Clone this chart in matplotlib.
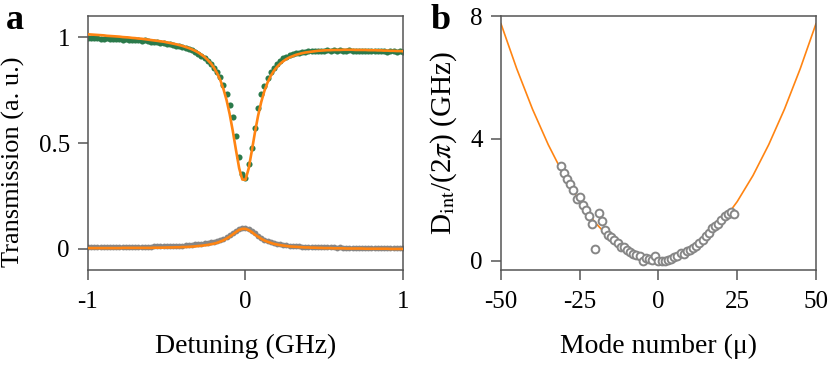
import numpy as np
import matplotlib
matplotlib.use("Agg")
import matplotlib.pyplot as plt

plt.rcParams['font.family'] = ['Liberation Serif', 'DejaVu Serif']
plt.rcParams['mathtext.fontset'] = 'stix'
plt.rcParams['axes.unicode_minus'] = False

# ---- panel a: transmission vs detuning ----
detuning = np.round(np.arange(-1.0, 1.0001, 0.02), 2)

transmission = [
    0.998, 0.996, 0.995, 0.997, 0.994, 0.993, 0.995, 0.992, 0.991, 0.993,
    0.990, 0.989, 0.991, 0.988, 0.987, 0.988, 0.985, 0.984, 0.985, 0.982,
    0.980, 0.978, 0.977, 0.974, 0.972, 0.970, 0.967, 0.965, 0.961, 0.958,
    0.954, 0.949, 0.944, 0.938, 0.931, 0.923, 0.913, 0.902, 0.889, 0.874,
    0.856, 0.836, 0.810, 0.776, 0.732, 0.680, 0.622, 0.533, 0.434, 0.354,
    0.337, 0.402, 0.475, 0.570, 0.665, 0.733, 0.772, 0.806, 0.834, 0.855,
    0.874, 0.889, 0.900, 0.908, 0.914, 0.919, 0.924, 0.927, 0.930, 0.932,
    0.934, 0.933, 0.936, 0.935, 0.937, 0.935, 0.938, 0.936, 0.938, 0.936,
    0.938, 0.937, 0.935, 0.938, 0.936, 0.937, 0.935, 0.937, 0.936, 0.934,
    0.936, 0.935, 0.933, 0.935, 0.934, 0.932, 0.934, 0.933, 0.931, 0.933,
    0.932]

transmission_fit = [
    1.014, 1.013, 1.012, 1.011, 1.010, 1.009, 1.007, 1.006, 1.005, 1.004,
    1.003, 1.001, 1.000, 0.999, 0.997, 0.996, 0.994, 0.993, 0.991, 0.989,
    0.987, 0.985, 0.983, 0.981, 0.979, 0.976, 0.973, 0.970, 0.967, 0.963,
    0.959, 0.954, 0.949, 0.943, 0.936, 0.928, 0.918, 0.907, 0.893, 0.877,
    0.856, 0.830, 0.798, 0.756, 0.703, 0.636, 0.555, 0.466, 0.381, 0.328,
    0.327, 0.379, 0.462, 0.550, 0.629, 0.694, 0.746, 0.786, 0.817, 0.841,
    0.860, 0.875, 0.887, 0.897, 0.905, 0.911, 0.917, 0.921, 0.925, 0.928,
    0.930, 0.932, 0.934, 0.936, 0.937, 0.938, 0.939, 0.939, 0.940, 0.940,
    0.940, 0.941, 0.941, 0.941, 0.941, 0.940, 0.940, 0.940, 0.940, 0.939,
    0.939, 0.939, 0.938, 0.938, 0.937, 0.937, 0.936, 0.936, 0.935, 0.935,
    0.934]

drop = [
    0.009, 0.010, 0.009, 0.008, 0.009, 0.010, 0.009, 0.009, 0.010, 0.009,
    0.009, 0.010, 0.010, 0.009, 0.010, 0.011, 0.010, 0.010, 0.011, 0.011,
    0.011, 0.012, 0.012, 0.012, 0.013, 0.013, 0.014, 0.014, 0.015, 0.016,
    0.016, 0.017, 0.018, 0.019, 0.021, 0.022, 0.024, 0.026, 0.028, 0.031,
    0.034, 0.038, 0.043, 0.049, 0.056, 0.064, 0.074, 0.084, 0.093, 0.098,
    0.099, 0.094, 0.085, 0.073, 0.062, 0.052, 0.044, 0.037, 0.032, 0.027,
    0.024, 0.021, 0.019, 0.017, 0.015, 0.014, 0.013, 0.012, 0.011, 0.010,
    0.010, 0.009, 0.009, 0.008, 0.008, 0.008, 0.007, 0.007, 0.007, 0.006,
    0.007, 0.006, 0.006, 0.006, 0.005, 0.006, 0.005, 0.005, 0.006, 0.005,
    0.005, 0.004, 0.005, 0.005, 0.004, 0.005, 0.004, 0.004, 0.005, 0.004,
    0.004]

drop_fit = [
    0.004, 0.004, 0.004, 0.004, 0.004, 0.004, 0.004, 0.004, 0.004, 0.004,
    0.004, 0.005, 0.005, 0.005, 0.005, 0.005, 0.005, 0.005, 0.005, 0.005,
    0.005, 0.006, 0.006, 0.006, 0.006, 0.007, 0.007, 0.007, 0.008, 0.008,
    0.009, 0.009, 0.010, 0.011, 0.012, 0.014, 0.015, 0.017, 0.019, 0.022,
    0.025, 0.029, 0.035, 0.041, 0.049, 0.058, 0.069, 0.080, 0.090, 0.095,
    0.095, 0.089, 0.080, 0.068, 0.058, 0.048, 0.040, 0.034, 0.029, 0.024,
    0.021, 0.018, 0.016, 0.014, 0.012, 0.011, 0.010, 0.009, 0.008, 0.007,
    0.007, 0.006, 0.006, 0.005, 0.005, 0.004, 0.004, 0.004, 0.003, 0.003,
    0.003, 0.003, 0.002, 0.002, 0.002, 0.002, 0.002, 0.002, 0.001, 0.001,
    0.001, 0.001, 0.001, 0.001, 0.001, 0.001, 0.000, 0.000, 0.000, 0.000,
    0.000]

# ---- panel b: integrated dispersion ----
mode_number = list(range(-31, 25))
d_int = [
    3.09, 2.87, 2.68, 2.53, 2.32, 2.02, 2.09, 1.84, 1.65, 1.48,
    1.20, 0.38, 1.55, 1.29, 1.02, 0.86, 0.77, 0.67, 0.60, 0.45,
    0.47, 0.36, 0.28, 0.22, 0.20, 0.16, 0.01, 0.08, 0.05, 0.03,
    0.16, 0.01, 0.00, 0.01, 0.03, 0.07, 0.12, 0.16, 0.25, 0.23,
    0.31, 0.36, 0.43, 0.50, 0.58, 0.70, 0.80, 0.91, 1.06, 1.14,
    1.21, 1.34, 1.47, 1.54, 1.61, 1.54]

fit_mode = list(range(-50, 51, 5))
d_int_fit = [7.75, 6.28, 4.96, 3.80, 2.79, 1.94, 1.24, 0.70, 0.31, 0.08, 0.00,
             0.08, 0.31, 0.70, 1.24, 1.94, 2.79, 3.80, 4.96, 6.28, 7.75]

orange = '#ff8412'
green = '#2b7a4b'
grey = '#868686'
spine_c = '#555555'
fs = 18   # tick labels
lfs = 20  # axis labels

fig = plt.figure(figsize=(8.3, 3.66), dpi=100)
ax1 = fig.add_axes([0.106, 0.262, 0.3795, 0.694])
ax2 = fig.add_axes([0.6036, 0.262, 0.3795, 0.694])

ax1.plot(detuning, transmission, 'o', color=green, ms=4.4, mew=0, zorder=2)
ax1.plot(detuning, drop, 'o', color=grey, ms=4.2, mew=0, zorder=2)
ax1.plot(detuning, transmission_fit, '-', color=orange, lw=1.9, zorder=3)
ax1.plot(detuning, drop_fit, '-', color=orange, lw=1.9, zorder=3)
ax1.set_xlim(-1, 1)
ax1.set_ylim(-0.1, 1.1)
ax1.set_xticks([-1, 0, 1])
ax1.set_xticklabels(['-1', '0', '1'])
ax1.set_yticks([0, 0.5, 1])
ax1.set_yticklabels(['0', '0.5', '1'])
ax1.set_xlabel('Detuning (GHz)', fontsize=lfs, labelpad=15)
ax1.set_ylabel('Transmission (a. u.)', fontsize=19)
ax1.yaxis.set_label_coords(-0.2, 0.425)

ax2.plot(fit_mode, d_int_fit, '-', color=orange, lw=1.2, zorder=2)
ax2.plot(mode_number, d_int, 'o', mfc='white', mec=grey, mew=1.4, ms=5.6,
         zorder=3)
ax2.set_xlim(-50, 50)
ax2.set_ylim(-0.3, 8)
ax2.set_xticks([-50, -25, 0, 25, 50])
ax2.set_xticklabels(['-50', '-25', '0', '25', '50'])
ax2.set_yticks([0, 4, 8])
ax2.set_yticklabels(['0', '4', '8'])
ax2.set_xlabel('Mode number (\u03bc)', fontsize=lfs, labelpad=15)
ax2.set_ylabel(r'D$_{\mathrm{int}}$/(2$\pi$) (GHz)', fontsize=21, labelpad=8)

for ax in (ax1, ax2):
    for s in ax.spines.values():
        s.set_color(spine_c)
        s.set_linewidth(1.1)
    ax.tick_params(direction='out', length=7, width=1.1, color=spine_c,
                   labelsize=fs, pad=6)
    ax.tick_params(axis='x', pad=8)

fig.text(0.007, 0.99, 'a', fontsize=26, fontweight='bold', va='top')
fig.text(0.519, 0.99, 'b', fontsize=26, fontweight='bold', va='top')

fig.savefig('out.png', dpi=100)
